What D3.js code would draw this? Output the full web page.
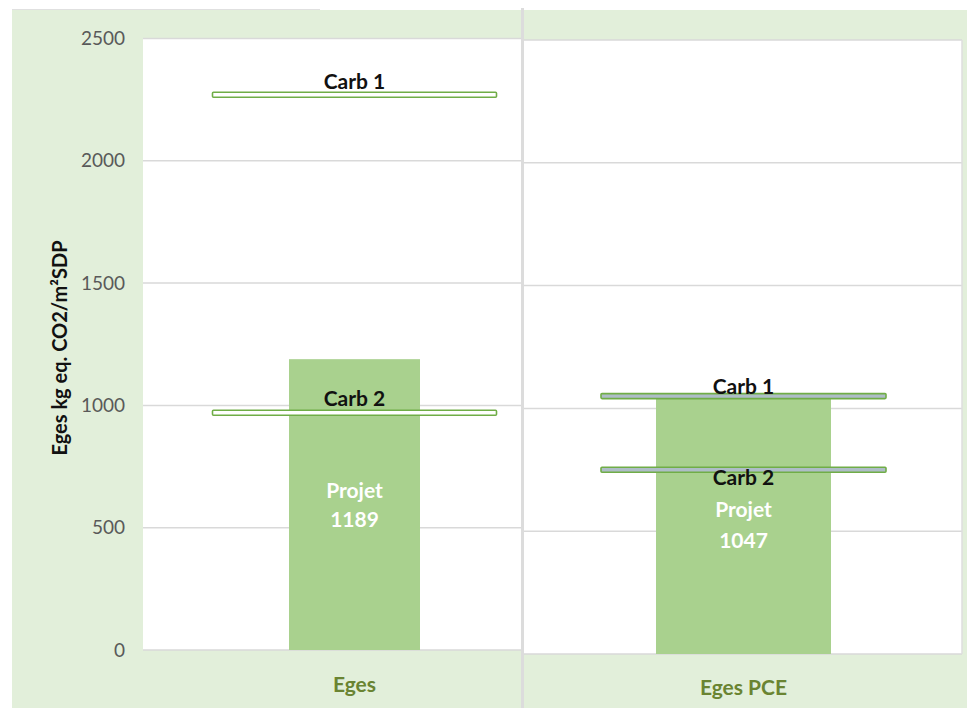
<!DOCTYPE html>
<html>
<head>
<meta charset="utf-8">
<script src="https://cdn.jsdelivr.net/npm/d3@7/dist/d3.min.js"></script>
<style>
  html, body { margin: 0; padding: 0; background: #ffffff; }
  svg { display: block; }
  text { font-family: Lato, "Open Sans", sans-serif; }
</style>
</head>
<body>
<svg id="chart" width="967" height="708"></svg>
<script>
// Chart values
const categories = ["Eges", "Eges PCE"];
const projetValues = [1189, 1047];
const carb1Values = [2270, 1050];
const carb2Values = [970, 750];
const yTicks = [0, 500, 1000, 1500, 2000, 2500];
const seriesLabel = "Projet";
const carbNames = ["Carb 1", "Carb 2"];
const yTitle = "Eges kg eq. CO2/m²SDP";

// Panel geometry (each category sits in its own plot frame)
const panels = [
  { x0: 143, x1: 521, yTop: 38.5, yBottom: 650, center: 354.5, barWidth: 131, carbHalf: 142,
    carbFill: "#ffffff", carbOffsets: [-13, -14], labelY: [491, 520], catY: 685 },
  { x0: 524, x1: 962, yTop: 40, yBottom: 654, center: 743.5, barWidth: 175, carbHalf: 142.5,
    carbFill: "#aebdc7", carbOffsets: [-9, 8], labelY: [510, 541], catY: 688 }
];

const svg = d3.select("#chart");

// Background
svg.append("rect").attr("x", 12).attr("y", 10).attr("width", 955).attr("height", 698)
  .attr("fill", "#e2efda");
svg.append("line").attr("x1", 12).attr("x2", 320).attr("y1", 9.5).attr("y2", 9.5)
  .attr("stroke", "#e0e0e0").attr("stroke-width", 1);

// Separator between the two frames
svg.append("rect").attr("x", 521).attr("y", 8).attr("width", 3).attr("height", 700)
  .attr("fill", "#dcdcdc");

panels.forEach((p, i) => {
  const y = d3.scaleLinear().domain([0, 2500]).range([p.yBottom, p.yTop]);
  const x = d3.scaleBand().domain([categories[i]])
    .range([p.center - p.barWidth / 2, p.center + p.barWidth / 2]).padding(0);
  const xc = d3.scaleBand().domain([categories[i]])
    .range([p.center - p.carbHalf, p.center + p.carbHalf]).padding(0);

  const g = svg.append("g");

  // Plot area
  g.append("rect").attr("x", p.x0).attr("y", p.yTop)
    .attr("width", p.x1 - p.x0).attr("height", p.yBottom - p.yTop)
    .attr("fill", "#ffffff");

  // Gridlines
  g.append("g").selectAll("line").data(yTicks).join("line")
    .attr("x1", p.x0).attr("x2", p.x1)
    .attr("y1", d => y(d)).attr("y2", d => y(d))
    .attr("stroke", "#d9d9d9").attr("stroke-width", 1.5);

  if (i === panels.length - 1) {
    g.append("line").attr("x1", p.x1).attr("x2", p.x1)
      .attr("y1", p.yTop).attr("y2", p.yBottom)
      .attr("stroke", "#dedede").attr("stroke-width", 1.5);
  }

  // Bar
  g.append("rect")
    .attr("x", x(categories[i])).attr("width", x.bandwidth())
    .attr("y", y(projetValues[i])).attr("height", y(0) - y(projetValues[i]))
    .attr("fill", "#a9d18e");

  // Bar label
  const lab = g.append("g").attr("fill", "#ffffff").attr("font-weight", 700)
    .attr("font-size", 21).attr("text-anchor", "middle");
  lab.append("text").attr("x", p.center).attr("y", p.labelY[0]).attr("dy", "0.35em").text(seriesLabel);
  lab.append("text").attr("x", p.center).attr("y", p.labelY[1]).attr("dy", "0.35em").text(projetValues[i]);

  // Carbon threshold markers
  [carb1Values[i], carb2Values[i]].forEach((v, k) => {
    g.append("rect")
      .attr("x", xc(categories[i])).attr("width", xc.bandwidth())
      .attr("y", y(v) - 2.5).attr("height", 5).attr("rx", 1)
      .attr("fill", p.carbFill).attr("stroke", "#70ad47").attr("stroke-width", 1.6);
    g.append("text")
      .attr("x", p.center).attr("y", y(v) + p.carbOffsets[k]).attr("dy", "0.35em")
      .attr("text-anchor", "middle").attr("font-weight", 700).attr("font-size", 21)
      .attr("fill", "#111111").text(carbNames[k]);
  });

  // Category label
  g.append("text").attr("x", p.center).attr("y", p.catY).attr("dy", "0.35em")
    .attr("text-anchor", "middle").attr("font-weight", 700).attr("font-size", 21)
    .attr("fill", "#6a8432").text(categories[i]);

  // Y axis on the first frame
  if (i === 0) {
    const axis = d3.axisLeft(y).tickValues(yTicks).tickFormat(d3.format("d"))
      .tickSize(0).tickPadding(18);
    const ax = g.append("g").attr("transform", `translate(${p.x0},0)`).call(axis);
    ax.select(".domain").remove();
    ax.selectAll("text").attr("font-size", 19).attr("fill", "#595959")
      .attr("font-family", "Lato, 'Open Sans', sans-serif");
  }
});

// Y axis title
svg.append("text")
  .attr("transform", "translate(60,348) rotate(-90)")
  .attr("text-anchor", "middle").attr("dy", "0.35em")
  .attr("font-weight", 700).attr("font-size", 20).attr("fill", "#111111")
  .text(yTitle);
</script>
</body>
</html>
